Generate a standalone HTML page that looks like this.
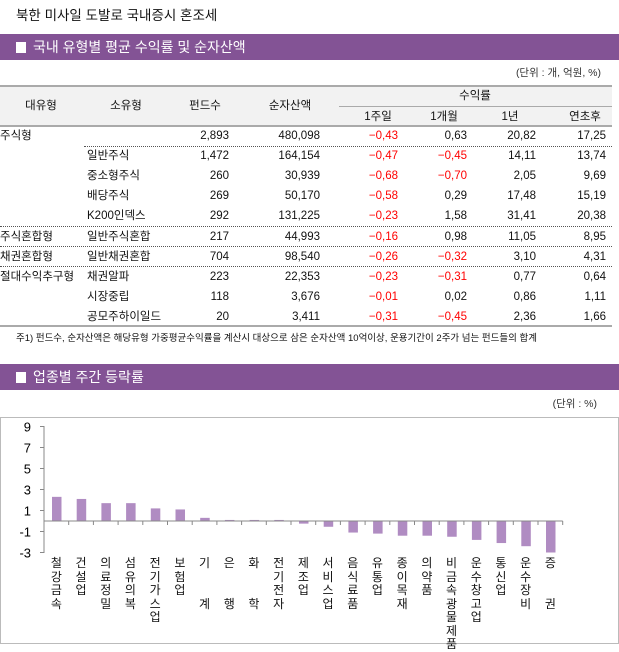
<!DOCTYPE html>
<html><head><meta charset="utf-8"><style>
*{margin:0;padding:0;box-sizing:border-box}
body{width:619px;height:652px;background:#fff;position:relative;font-family:"Liberation Sans","Noto Sans CJK KR","NanumGothic",sans-serif;color:#111;overflow:hidden}
.a{position:absolute;white-space:nowrap;line-height:14px;font-size:11.5px}
.bar{position:absolute;left:0;width:619px;height:26px;background:#835395;color:#fff;font-size:14px;line-height:26px;padding-left:16px}
.bar i{display:inline-block;width:10px;height:11px;background:#fff;margin-right:7px;vertical-align:-1px}
.r{text-align:right}
.red{color:#f00}
.hl{position:absolute;height:0}
</style></head><body>
<div class="a" style="left:16px;top:8px;font-size:13.5px;line-height:16px">북한 미사일 도발로 국내증시 혼조세</div>
<div class="bar" style="top:34px"><i></i>국내 유형별 평균 수익률 및 순자산액</div>
<div class="a" style="right:18px;top:66px;font-size:10.5px;color:#333">(단위 : 개, 억원, %)</div>
<div style="position:absolute;left:0;top:86px;width:612px;height:40px;background:#f2f2f2"></div>
<div class="hl" style="left:0;top:85px;width:612px;border-top:2px solid #aaa"></div>
<div class="hl" style="left:0;top:125px;width:612px;border-top:2px solid #aaa"></div>
<div class="hl" style="left:339px;top:106px;width:273px;border-top:1px solid #aaa"></div>
<div class="a" style="left:21px;top:99px;width:40px;text-align:center">대유형</div>
<div class="a" style="left:106px;top:99px;width:40px;text-align:center">소유형</div>
<div class="a" style="left:180px;top:99px;width:50px;text-align:center">펀드수</div>
<div class="a" style="left:260px;top:99px;width:60px;text-align:center">순자산액</div>
<div class="a" style="left:450px;top:89px;width:50px;text-align:center">수익률</div>
<div class="a" style="left:348px;top:110px;width:60px;text-align:center">1주일</div>
<div class="a" style="left:414px;top:110px;width:60px;text-align:center">1개월</div>
<div class="a" style="left:480px;top:110px;width:60px;text-align:center">1년</div>
<div class="a" style="left:555px;top:110px;width:60px;text-align:center">연초후</div>
<div id="rows"></div>
<div class="hl" style="left:84px;top:146px;width:528px;border-top:1px dotted #555"></div>
<div class="hl" style="left:0;top:226px;width:612px;border-top:1px dotted #555"></div>
<div class="hl" style="left:0;top:246px;width:612px;border-top:1px dotted #555"></div>
<div class="hl" style="left:0;top:266px;width:612px;border-top:1px dotted #555"></div>
<div class="hl" style="left:0;top:325px;width:612px;border-top:2px solid #aaa"></div>
<div class="a" style="left:16px;top:333px;font-size:9.5px;line-height:12px">주1) 펀드수, 순자산액은 해당유형 가중평균수익률을 계산시 대상으로 삼은 순자산액 10억이상, 운용기간이 2주가 넘는 펀드들의 합계</div>
<div class="bar" style="top:364px"><i></i>업종별 주간 등락률</div>
<div class="a" style="right:22px;top:397px;font-size:10.5px;color:#333">(단위 : %)</div>
<div style="position:absolute;left:0;top:417px;width:619px;height:227px;border:1px solid #bbb"></div>
<svg style="position:absolute;left:0;top:0" width="619" height="652" id="ch"></svg>
<div id="lab"></div>
<script>
var R=[["주식형","","2,893","480,098","-0.43","0.63","20.82","17.25"],
["","일반주식","1,472","164,154","-0.47","-0.45","14.11","13.74"],
["","중소형주식","260","30,939","-0.68","-0.70","2.05","9.69"],
["","배당주식","269","50,170","-0.58","0.29","17.48","15.19"],
["","K200인덱스","292","131,225","-0.23","1.58","31.41","20.38"],
["주식혼합형","일반주식혼합","217","44,993","-0.16","0.98","11.05","8.95"],
["채권혼합형","일반채권혼합","704","98,540","-0.26","-0.32","3.10","4.31"],
["절대수익추구형","채권알파","223","22,353","-0.23","-0.31","0.77","0.64"],
["","시장중립","118","3,676","-0.01","0.02","0.86","1.11"],
["","공모주하이일드","20","3,411","-0.31","-0.45","2.36","1.66"]];
var rt=[229,320,398,467,536,606],h="";
R.forEach(function(r,i){var y=129+i*20.1;
h+='<div class="a" style="left:0;top:'+y+'px">'+r[0]+'</div><div class="a" style="left:87px;top:'+y+'px">'+r[1]+'</div>';
for(var j=2;j<8;j++){var v=r[j],c=v[0]=="-"?"red":"";if(c)v="−"+v.slice(1);
h+='<div class="a r '+c+'" style="right:'+(619-rt[j-2])+'px;top:'+y+'px">'+v.replace(/\./g,",")+'</div>';}});
document.getElementById("rows").innerHTML=h;
var V=[2.3,2.1,1.7,1.7,1.2,1.1,0.3,0.1,0.1,0.1,-0.25,-0.55,-1.1,-1.2,-1.4,-1.4,-1.5,-1.8,-2.1,-2.4,-3.0];
var L=["철강금속","건설업","의료정밀","섬유의복","전기가스업","보험업","기 계","은 행","화 학","전기전자","제조업","서비스업","음식료품","유통업","종이목재","의약품","비금속광물제품","운수창고업","통신업","운수장비","증 권"];
var ax=44,z=521,u=10.5,w=24.7,s="";
s+='<line x1="'+ax+'" y1="426" x2="'+ax+'" y2="553" stroke="#888"/>';
for(var t=9;t>=-3;t-=2){var y=z-t*u;s+='<line x1="40" y1="'+y+'" x2="'+ax+'" y2="'+y+'" stroke="#888"/><text x="31" y="'+(y+5)+'" text-anchor="end" font-size="13" font-family="Liberation Sans">'+t+'</text>';}
V.forEach(function(v,i){var x=ax+i*w+8,y=v>0?z-v*u:z;s+='<rect x="'+x+'" y="'+y+'" width="9.5" height="'+Math.abs(v*u)+'" fill="#b08cc2"/>';
s+='<line x1="'+(ax+(i+1)*w)+'" y1="'+z+'" x2="'+(ax+(i+1)*w)+'" y2="'+(z+4)+'" stroke="#888"/>';});
s+='<line x1="'+ax+'" y1="'+z+'" x2="'+(ax+21*w)+'" y2="'+z+'" stroke="#888"/>';
document.getElementById("ch").innerHTML=s;
var lh="";L.forEach(function(l,i){var cx=ax+i*w+w/2;
lh+='<div style="position:absolute;left:'+(cx-7)+'px;top:557px;width:14px;font-size:12px;line-height:13.5px;text-align:center;white-space:normal;word-break:break-all">'+l.split("").map(function(c){return c==" "?"<br>":c}).join("<br>")+'</div>';});
document.getElementById("lab").innerHTML=lh;
</script>
</body></html>
